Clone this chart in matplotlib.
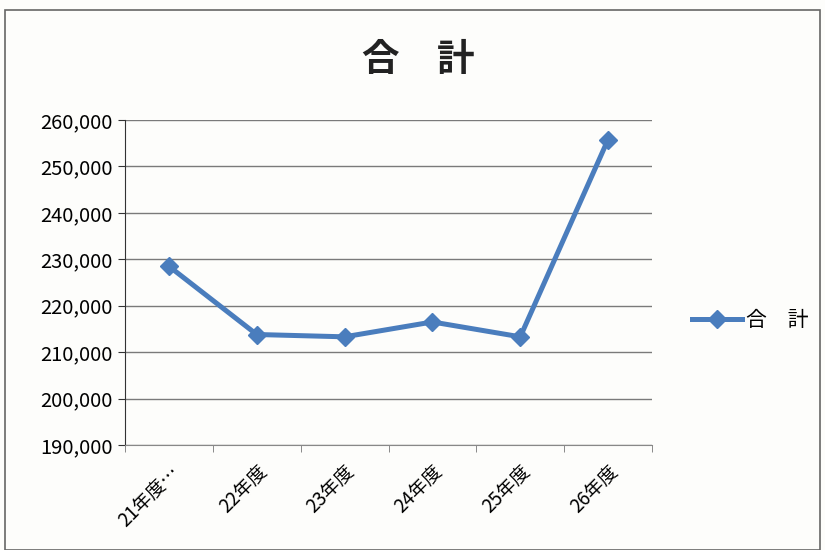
import matplotlib
matplotlib.use('Agg')
import matplotlib.pyplot as plt
from matplotlib.ticker import FuncFormatter, FixedLocator
from matplotlib.patches import Rectangle

plt.rcParams['font.family'] = ['Noto Sans CJK JP', 'DejaVu Sans']

categories = ['21年度…', '22年度', '23年度', '24年度', '25年度', '26年度']
totals = [228500, 213800, 213300, 216500, 213300, 255800]
series_name = '合　計'

fig = plt.figure(figsize=(8.25, 5.5), dpi=100)
fig.patch.set_facecolor('#fdfdfb')
ax = fig.add_axes([125 / 825, 1 - 445 / 550, (652 - 125) / 825, (445 - 120) / 550])
ax.set_facecolor('#fdfdfb')

x = list(range(len(categories)))
ax.plot(x, totals, color='#4a7dbd', linewidth=3.6, marker='D', markersize=9.5,
        label=series_name)

ax.set_xlim(-0.5, len(categories) - 0.5)
ax.set_ylim(190000, 260000)
ax.set_yticks(range(190000, 260001, 10000))
ax.yaxis.set_major_formatter(FuncFormatter(lambda v, p: f'{int(v):,}'))
ax.grid(axis='y', color='#7a7a7a', linewidth=1.0)
ax.set_axisbelow(True)

ax.set_xticks(x)
ax.set_xticklabels(categories, rotation=45, ha='right', rotation_mode='anchor', fontsize=13.5)
ax.tick_params(axis='x', length=0, pad=12)
ax.xaxis.set_minor_locator(FixedLocator([i - 0.5 for i in range(len(categories) + 1)]))
ax.tick_params(axis='x', which='minor', length=5, color='#777777')
ax.tick_params(axis='y', labelsize=14.5, length=5, color='#333333', pad=4)

for s in ['top', 'right']:
    ax.spines[s].set_visible(False)
ax.spines['left'].set_color('#333333')
ax.spines['bottom'].set_color('#888888')

fig.text(418 / 825, 1 - 60 / 550, '合　計', ha='center', va='center',
         fontsize=27, fontweight='bold', color='#222222')

ax.legend(loc='center left', bbox_to_anchor=(1.04, 0.385), frameon=False,
          fontsize=15, handlelength=2.4, handletextpad=0.2)

fig.patches.append(Rectangle((5 / 825, 0), 815 / 825, 1 - 10 / 550,
                             transform=fig.transFigure, fill=False,
                             edgecolor='#666666', linewidth=1.2))

fig.savefig('out.png', dpi=100)
